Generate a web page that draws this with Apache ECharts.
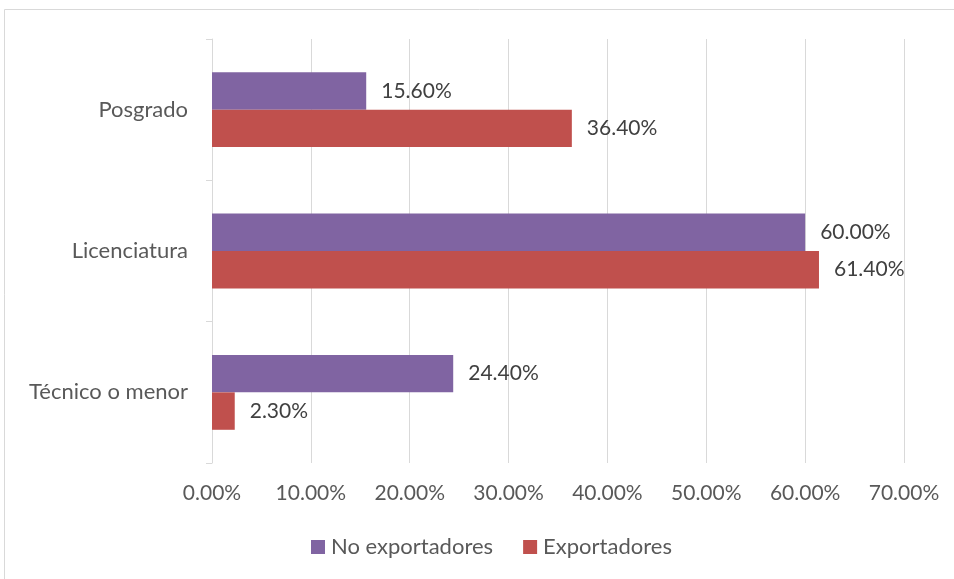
<!DOCTYPE html>
<html>
<head>
<meta charset="utf-8">
<script src="https://cdn.jsdelivr.net/npm/echarts@6/dist/echarts.min.js"></script>
<style>
  html, body { margin: 0; padding: 0; background: #fff; }
  #chart { width: 954px; height: 579px; }
</style>
</head>
<body>
<div id="chart"></div>
<script>
// Education level of company staff: non-exporting vs exporting firms (%)
const categories = ['Técnico o menor', 'Licenciatura', 'Posgrado'];
const noExportadores = [24.4, 60.0, 15.6];
const exportadores = [2.3, 61.4, 36.4];
const seriesNames = ['No exportadores', 'Exportadores'];
const xTicks = { min: 0, max: 70, interval: 10 };

const FONT = 'Lato, "Open Sans", sans-serif';
const TEXT = '#595959';
const GRID = '#d9d9d9';

const chart = echarts.init(document.getElementById('chart'), null, { renderer: 'canvas' });

const pct = v => v.toFixed(2) + '%';

chart.setOption({
  animation: false,
  textStyle: { fontFamily: FONT },
  graphic: [{
    type: 'rect',
    shape: { x: 4.5, y: 9.5, width: 960, height: 600 },
    style: { fill: 'none', stroke: GRID, lineWidth: 1 },
    silent: true
  }],
  grid: { left: 212, right: 50, top: 39, bottom: 116, containLabel: false },
  legend: {
    bottom: 16,
    left: 306,
    itemWidth: 14,
    itemHeight: 14,
    itemGap: 30,
    icon: 'rect',
    textStyle: { color: TEXT, fontSize: 22, fontFamily: FONT, padding: [0, 0, 0, 1] },
    data: seriesNames
  },
  xAxis: {
    type: 'value',
    min: xTicks.min,
    max: xTicks.max,
    interval: xTicks.interval,
    axisLine: { show: false },
    axisTick: { show: false },
    splitLine: { show: true, lineStyle: { color: GRID, width: 1 } },
    axisLabel: {
      color: TEXT, fontSize: 21, fontFamily: FONT, margin: 20,
      formatter: v => v.toFixed(2) + '%'
    }
  },
  yAxis: {
    type: 'category',
    data: categories,
    axisLine: { show: true, lineStyle: { color: GRID, width: 1 } },
    axisTick: { show: true, length: 6, lineStyle: { color: GRID } },
    axisLabel: { color: TEXT, fontSize: 22, fontFamily: FONT, margin: 24 }
  },
  series: [
    {
      name: seriesNames[0],
      type: 'bar',
      data: noExportadores,
      barGap: '0%',
      barCategoryGap: '47%',
      itemStyle: { color: '#8064A2' },
      label: {
        show: true, position: 'right', distance: 15,
        color: '#404040', fontSize: 21, fontFamily: FONT,
        formatter: p => pct(p.value)
      }
    },
    {
      name: seriesNames[1],
      type: 'bar',
      data: exportadores,
      barGap: '0%',
      barCategoryGap: '47%',
      itemStyle: { color: '#C0504D' },
      label: {
        show: true, position: 'right', distance: 15,
        color: '#404040', fontSize: 21, fontFamily: FONT,
        formatter: p => pct(p.value)
      }
    }
  ]
});
</script>
</body>
</html>
